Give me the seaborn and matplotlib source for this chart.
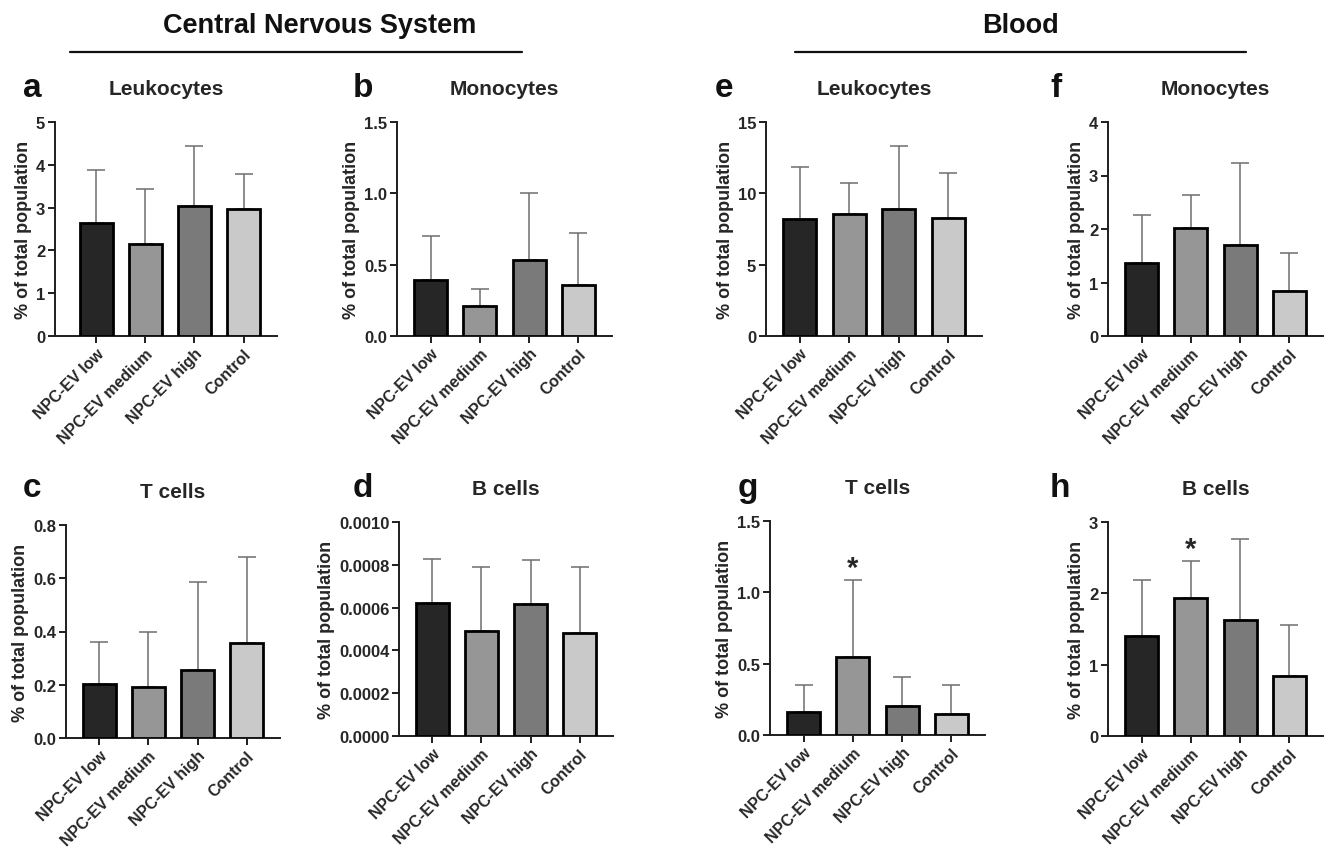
import numpy as np
import pandas as pd
import matplotlib
matplotlib.use("Agg")
import matplotlib.pyplot as plt
from matplotlib.lines import Line2D
from matplotlib.ticker import FormatStrFormatter
import seaborn as sns

sns.set_theme(style="ticks")
plt.rcParams['font.family'] = ['Liberation Sans', 'DejaVu Sans']
plt.rcParams['font.weight'] = 'bold'

groups = ["NPC-EV low", "NPC-EV medium", "NPC-EV high", "Control"]
colors = ["#262626", "#969696", "#7a7a7a", "#c9c9c9"]

# means and upper error (SD) per panel
a_mean = [2.65, 2.16, 3.03, 2.96]; a_sd = [1.24, 1.28, 1.40, 0.82]
b_mean = [0.39, 0.21, 0.53, 0.355]; b_sd = [0.31, 0.12, 0.47, 0.365]
c_mean = [0.204, 0.19, 0.255, 0.357]; c_sd = [0.158, 0.21, 0.33, 0.322]
d_mean = [0.000623, 0.000489, 0.000618, 0.000483]; d_sd = [0.000206, 0.000299, 0.000203, 0.000307]
e_mean = [8.18, 8.55, 8.88, 8.29]; e_sd = [3.64, 2.20, 4.41, 3.16]
f_mean = [1.36, 2.01, 1.71, 0.84]; f_sd = [0.90, 0.62, 1.52, 0.71]
g_mean = [0.161, 0.549, 0.203, 0.145]; g_sd = [0.192, 0.540, 0.201, 0.208]
h_mean = [1.40, 1.94, 1.63, 0.84]; h_sd = [0.78, 0.52, 1.13, 0.72]

panels = [
    dict(letter="a", title="Leukocytes", mean=a_mean, sd=a_sd, ylim=5, ticks=[0, 1, 2, 3, 4, 5], fmt="%d", box=(55, 277, 337, 123), xlo=-0.84, star=None),
    dict(letter="b", title="Monocytes", mean=b_mean, sd=b_sd, ylim=1.5, ticks=[0, 0.5, 1.0, 1.5], fmt="%.1f", box=(397, 612, 337, 123), xlo=-0.68, star=None),
    dict(letter="c", title="T cells", mean=c_mean, sd=c_sd, ylim=0.8, ticks=[0, 0.2, 0.4, 0.6, 0.8], fmt="%.1f", box=(66, 280, 739, 526), xlo=-0.68, star=None),
    dict(letter="d", title="B cells", mean=d_mean, sd=d_sd, ylim=0.001, ticks=[0, 0.0002, 0.0004, 0.0006, 0.0008, 0.0010], fmt="%.4f", box=(399, 613, 737, 523), xlo=-0.68, star=None),
    dict(letter="e", title="Leukocytes", mean=e_mean, sd=e_sd, ylim=15, ticks=[0, 5, 10, 15], fmt="%d", box=(766, 982, 337, 123), xlo=-0.68, star=None),
    dict(letter="f", title="Monocytes", mean=f_mean, sd=f_sd, ylim=4, ticks=[0, 1, 2, 3, 4], fmt="%d", box=(1108, 1323, 337, 123), xlo=-0.68, star=None),
    dict(letter="g", title="T cells", mean=g_mean, sd=g_sd, ylim=1.5, ticks=[0, 0.5, 1.0, 1.5], fmt="%.1f", box=(770, 985, 736, 522), xlo=-0.68, star=1),
    dict(letter="h", title="B cells", mean=h_mean, sd=h_sd, ylim=3, ticks=[0, 1, 2, 3], fmt="%d", box=(1108, 1323, 737, 523), xlo=-0.68, star=1),
]

W, H = 1326, 853
fig = plt.figure(figsize=(W / 100, H / 100), dpi=100)
txt = "#262626"

for p in panels:
    l, r, y0, yt = p["box"]
    ax = fig.add_axes([l / W, 1 - y0 / H, (r - l) / W, (y0 - yt) / H])
    df = pd.DataFrame({"group": groups, "value": p["mean"]})
    sns.barplot(data=df, x="group", y="value", hue="group", palette=colors, legend=False,
                width=0.67, edgecolor="black", linewidth=2.0, errorbar=None, ax=ax, zorder=3)
    sd = np.array(p["sd"])
    ax.errorbar(np.arange(4), p["mean"], yerr=[np.zeros(4), sd], fmt="none",
                ecolor="#6e6e6e", elinewidth=1.1, capsize=6.5, capthick=1.1, zorder=2)
    if p["star"] is not None:
        i = p["star"]
        ax.annotate("*", (i, p["mean"][i] + sd[i]), xytext=(0, -2), textcoords="offset points",
                    ha="center", va="bottom", fontsize=21, fontweight="bold", color=txt)
    ax.set_ylim(0, p["ylim"])
    ax.set_xlim(p["xlo"], 3.68)
    ax.set_yticks(p["ticks"])
    ax.yaxis.set_major_formatter(FormatStrFormatter(p["fmt"]))
    ax.set_xlabel("")
    ax.set_ylabel("% of total population", fontsize=13, fontweight="bold", color=txt, labelpad=3)
    ax.set_title(p["title"], fontsize=15, fontweight="bold", color=txt, pad=20)
    sns.despine(ax=ax)
    for s in ["left", "bottom"]:
        ax.spines[s].set_linewidth(1.4)
        ax.spines[s].set_color("#1e1e1e")
    ax.tick_params(axis="both", width=1.4, length=5, color="#1e1e1e", labelcolor=txt)
    ax.tick_params(axis="y", labelsize=12, pad=2)
    ax.tick_params(axis="x", labelsize=11.5, pad=2)
    for lab in ax.get_xticklabels():
        lab.set_rotation(45)
        lab.set_ha("right")
        lab.set_rotation_mode("anchor")
        lab.set_fontweight("bold")
    for lab in ax.get_yticklabels():
        lab.set_fontweight("bold")
    ax.set_facecolor("white")

# panel letters
letters = [("a", 23, 97), ("b", 353, 97), ("c", 23, 497), ("d", 353, 497),
           ("e", 715, 97), ("f", 1050, 97), ("g", 738, 497), ("h", 1050, 497)]
for t, x, y in letters:
    fig.text(x / W, 1 - y / H, t, fontsize=24, fontweight="bold", color="#111111", ha="left", va="baseline")

# section headers
fig.text(320 / W, 1 - 33 / H, "Central Nervous System", fontsize=19.5, fontweight="bold", color="#111111", ha="center", va="baseline")
fig.text(1020 / W, 1 - 33 / H, "Blood", fontsize=19.5, fontweight="bold", color="#111111", ha="center", va="baseline")
fig.add_artist(Line2D([70 / W, 522 / W], [1 - 53 / H, 1 - 53 / H], color="#111111", linewidth=1.6))
fig.add_artist(Line2D([795 / W, 1246 / W], [1 - 53 / H, 1 - 53 / H], color="#111111", linewidth=1.6))

fig.savefig("out.png", dpi=100, facecolor="white")
